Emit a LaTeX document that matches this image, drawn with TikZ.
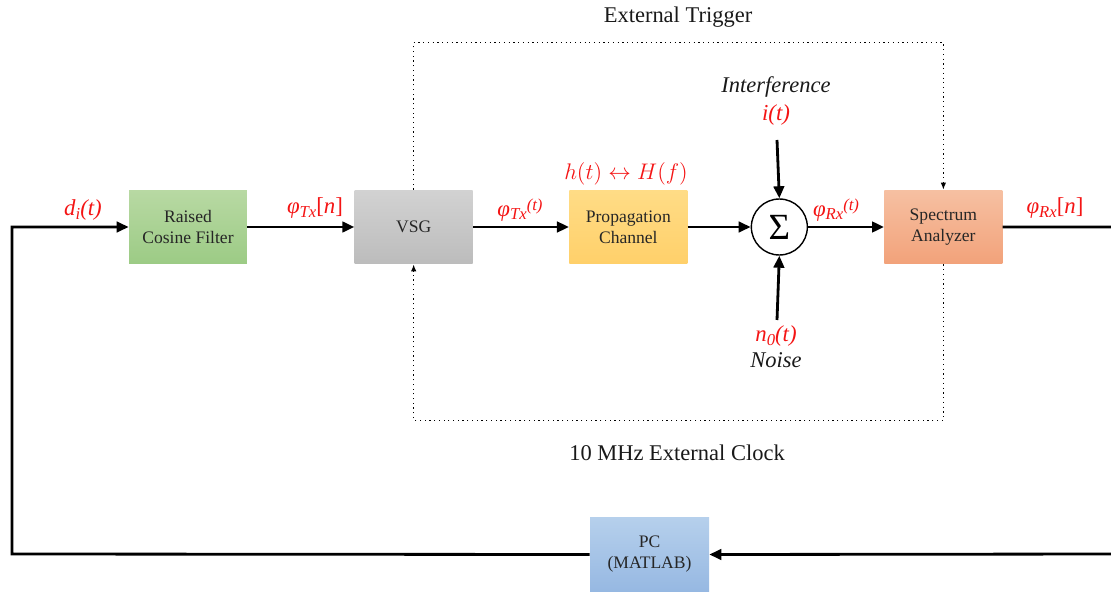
\documentclass[tikz,border=0pt]{standalone}
\usepackage{fontspec}
\usepackage{graphicx}
\setmainfont{Liberation Serif}
\usetikzlibrary{positioning,arrows.meta}

\definecolor{greentop}{HTML}{B8D9A3}
\definecolor{greenbot}{HTML}{9CCB85}
\definecolor{graytop}{HTML}{D2D2D2}
\definecolor{graybot}{HTML}{BCBCBC}
\definecolor{yellowtop}{HTML}{FFDC86}
\definecolor{yellowbot}{HTML}{FFD06A}
\definecolor{salmontop}{HTML}{F6C0A2}
\definecolor{salmonbot}{HTML}{F2A27A}
\definecolor{bluetop}{HTML}{B6D0EC}
\definecolor{bluebot}{HTML}{96B8E2}
\definecolor{sigred}{HTML}{F41414}

% subscript / raised argument for signal names
\newcommand{\sigsub}[2]{#1\raisebox{-0.35ex}{\fontsize{9.5}{10}\selectfont #2}}
\newcommand{\sigarg}[1]{\raisebox{0.55ex}{\fontsize{9.5}{10}\selectfont #1}}

\begin{document}
\begin{tikzpicture}[
    x=0.02cm, y=-0.02cm,
    block/.style={rectangle, minimum width=2.36cm, minimum height=1.48cm, align=center,
        text=black!85, font=\fontsize{10}{12}\selectfont},
    sum/.style={draw, circle, fill=white, line width=0.8pt, minimum size=1.12cm, inner sep=0pt,
        font=\fontsize{21}{21}\selectfont},
    signal/.style={text=sigred, font=\fontsize{13}{15}\itshape},
    caption/.style={text=black!90, font=\fontsize{12.8}{15}\selectfont},
    arrow/.style={-{Triangle[length=2.4mm, width=2.1mm]}, line width=1.6pt},
    sync/.style={-{Latex[length=1.4mm, width=1.1mm]}, dotted, line width=0.7pt}
]
    \useasboundingbox (0,0) rectangle (1111,594);

    % Blocks
    \node[block, top color=greentop, bottom color=greenbot] (filter) at (188,227) {Raised\\Cosine Filter};
    \node[block, top color=graytop, bottom color=graybot, right=2.14cm of filter] (vsg) {VSG};
    \node[block, top color=yellowtop, bottom color=yellowbot, right=1.92cm of vsg] (channel) {Propagation\\Channel};
    \node[sum, right=1.26cm of channel] (sum) {Σ};
    \node[block, top color=salmontop, bottom color=salmonbot, right=1.52cm of sum] (analyzer) {Spectrum\\Analyzer};
    \node[block, minimum width=2.38cm, minimum height=1.5cm, top color=bluetop, bottom color=bluebot] (pc) at (649.5,554.5) {PC\\(MATLAB)};

    % Interference and noise inputs
    \coordinate (intsrc) at (777,140);
    \coordinate (noisesrc) at (777,320);
    \node[caption, font=\fontsize{12.8}{15}\itshape] (intname) at (776,87) {Interference};
    \node[signal] (intsig) at (776,115) {i(t)};
    \node[signal] (noisesig) at (776,336) {\sigsub{n}{0}(t)};
    \node[caption, font=\fontsize{12.8}{15}\itshape] (noisename) at (776,360) {Noise};

    % Signal labels
    \node[signal] (din) at (83,210) {\sigsub{d}{i}(t)};
    \node[signal] (txn) at (315,208) {\sigsub{φ}{Tx}\upshape[\itshape n\upshape]};
    \node[signal] (txt) at (520,210) {\sigsub{φ}{Tx}\sigarg{(t)}};
    \node[signal, font=\fontsize{12}{15}\selectfont] (resp) at (626,174) {\scalebox{1.07}{$h(t)\leftrightarrow H(f)$}};
    \node[signal] (rxt) at (836,210) {\sigsub{φ}{Rx}\sigarg{(t)}};
    \node[signal] (rxn) at (1055,208) {\sigsub{φ}{Rx}\upshape[\itshape n\upshape]};

    % Sync lines
    \node[caption] (trigger) at (678,17) {External Trigger};
    \node[caption] (clock) at (677,453) {10 MHz External Clock};
    \draw[sync] (vsg.north) -- ++(0,-147) -| (analyzer.north);
    \draw[sync] (analyzer.south) -- ++(0,156) -| (vsg.south);

    % Arrows
    \coordinate (lwire) at (12,554);
    \coordinate (rwire) at (1116,554);
    \draw[arrow] (pc.west) -- (lwire) |- (filter.west);
    \draw[arrow] (filter) -- (vsg);
    \draw[arrow] (vsg) -- (channel);
    \draw[arrow] (channel) -- (sum);
    \draw[arrow] (sum) -- (analyzer);
    \draw[arrow] (intsrc) -- (sum.north);
    \draw[arrow] (noisesrc) -- (sum.south);
    \draw[arrow] (analyzer.east) -| (rwire) -- (pc.east);
\end{tikzpicture}
\end{document}
